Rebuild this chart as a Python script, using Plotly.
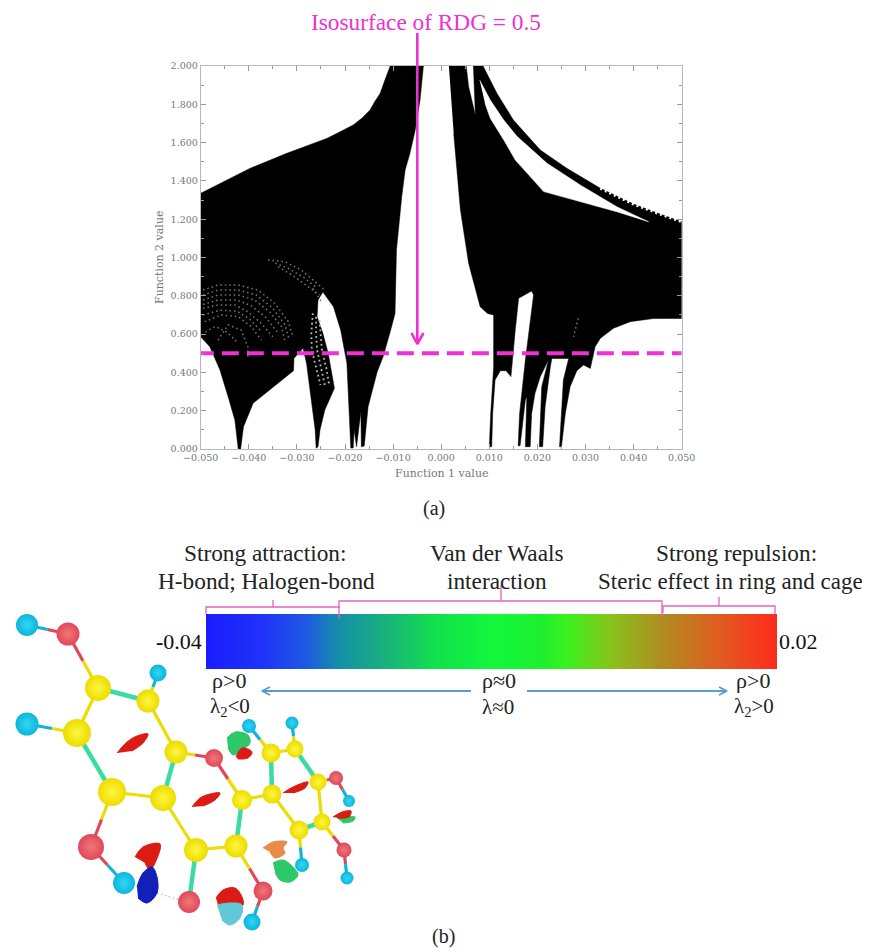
import plotly.graph_objects as go

PINK = "#ee30d4"
BRACKET = "#e263c4"
BLUE_ARROW = "#5b9bd5"
AXIS_TEXT = "#777777"
SERIF = "Liberation Serif"
PAGE_W, PAGE_H = 870, 948
BODY = 8  # the page keeps this margin round the figure
W, H = PAGE_W - BODY, PAGE_H - BODY


def dom_x(a, b):
    return [(a - BODY) / W, (b - BODY) / W]


def dom_y(top, bottom):
    return [1 - (bottom - BODY) / H, 1 - (top - BODY) / H]


# ---------- panel (a): RDG scatter envelope ----------
left_x = [-0.0500, -0.0453, -0.0397, -0.0321, -0.0238, -0.0210, -0.0183, -0.0165, -0.0148, -0.0138, -0.0127, -0.0117,
          -0.0106, -0.0037,
          -0.0044, -0.0054, -0.0065, -0.0075, -0.0082, -0.0093, -0.0096, -0.0105, -0.0121, -0.0133,
          -0.0152, -0.0160, -0.0166, -0.0167, -0.0176, -0.0181, -0.0183, -0.0188, -0.0191, -0.0196,
          -0.0209, -0.0224, -0.0246, -0.0256, -0.0258, -0.0246, -0.0235, -0.0222, -0.0242, -0.0252,
          -0.0256, -0.0260, -0.0262, -0.0273, -0.0280, -0.0287, -0.0306, -0.0307, -0.0349, -0.0391,
          -0.0411, -0.0417, -0.0422, -0.0429, -0.0443, -0.0460, -0.0481, -0.0500]
left_y = [1.335, 1.396, 1.466, 1.544, 1.622, 1.657, 1.692, 1.727, 1.770, 1.814, 1.857, 1.927,
          2.000, 2.000,
          1.822, 1.666, 1.544, 1.457, 1.318, 1.039, 0.708, 0.621, 0.480, 0.404,
          0.221, 0.016, 0.012, 0.195, 0.012, 0.099, 0.005, 0.005, 0.186, 0.447,
          0.621, 0.743, 0.820, 0.778, 0.691, 0.604, 0.500, 0.317, 0.204, 0.099,
          0.012, 0.004, 0.099, 0.308, 0.447, 0.526, 0.474, 0.409, 0.325, 0.239,
          0.116, 0.000, 0.000, 0.151, 0.273, 0.413, 0.534, 0.586]

right_x = [0.0016, 0.0052, 0.0057, 0.0071, 0.0067, 0.0087, 0.0116, 0.0150, 0.0206, 0.0261,
           0.0331, 0.0400, 0.0455, 0.0500, 0.0500, 0.0441, 0.0393, 0.0358, 0.0331, 0.0320,
           0.0310, 0.0296, 0.0282, 0.0268, 0.0258, 0.0250, 0.0246, 0.0254, 0.0265, 0.0230,
           0.0227, 0.0216, 0.0211, 0.0204, 0.0209, 0.0223, 0.0206, 0.0195, 0.0188, 0.0185,
           0.0175, 0.0178, 0.0175, 0.0164, 0.0160, 0.0163, 0.0175, 0.0192, 0.0188, 0.0161,
           0.0154, 0.0150, 0.0145, 0.0135, 0.0123, 0.0112, 0.0107, 0.0105, 0.0100, 0.0103,
           0.0109, 0.0109, 0.0096, 0.0081, 0.0074, 0.0057, 0.0040, 0.0026]
right_y = [2.000, 2.000, 1.892, 1.744, 2.000, 2.000, 1.857, 1.718, 1.561, 1.466,
           1.361, 1.279, 1.227, 1.187, 0.682, 0.681, 0.665, 0.630, 0.578, 0.534,
           0.421, 0.439, 0.409, 0.325, 0.186, 0.012, 0.012, 0.360, 0.473, 0.473,
           0.430, 0.221, 0.012, 0.012, 0.325, 0.465, 0.378, 0.291, 0.186, 0.012,
           0.012, 0.273, 0.256, 0.017, 0.017, 0.186, 0.465, 0.804, 0.825, 0.787,
           0.621, 0.500, 0.378, 0.409, 0.409, 0.360, 0.186, 0.012, 0.012, 0.186,
           0.430, 0.700, 0.708, 0.743, 0.813, 0.970, 1.248, 1.648]

gap_x = [0.0080, 0.0102, 0.0130, 0.0157, 0.0220, 0.0289, 0.0365, 0.0431,
         0.0365, 0.0303, 0.0213, 0.0154, 0.0130, 0.0102, 0.0091]
gap_y = [1.927, 1.822, 1.718, 1.634, 1.492, 1.379, 1.265, 1.187,
         1.239, 1.283, 1.344, 1.509, 1.614, 1.727, 1.805]

# serrated stretch of the upper band's edge
serrated_x = [0.0331, 0.0400, 0.0455, 0.0500]
serrated_y = [1.361, 1.279, 1.227, 1.187]

# the sparse, speckled arcs inside the black area
speck_arcs = [
    [(-0.0495, 0.830), (-0.0464, 0.856), (-0.0422, 0.856), (-0.0381, 0.830), (-0.0346, 0.761), (-0.0318, 0.665), (-0.0308, 0.586)],
    [(-0.0495, 0.805), (-0.0464, 0.830), (-0.0422, 0.830), (-0.0385, 0.805), (-0.0352, 0.740), (-0.0325, 0.650), (-0.0316, 0.570)],
    [(-0.0495, 0.778), (-0.0464, 0.804), (-0.0422, 0.804), (-0.0388, 0.778), (-0.0357, 0.717), (-0.0332, 0.639), (-0.0324, 0.552)],
    [(-0.0495, 0.755), (-0.0464, 0.778), (-0.0425, 0.778), (-0.0395, 0.748), (-0.0365, 0.688), (-0.0341, 0.612)],
    [(-0.0495, 0.735), (-0.0464, 0.752), (-0.0429, 0.752), (-0.0402, 0.717), (-0.0374, 0.656), (-0.0350, 0.586)],
    [(-0.0495, 0.700), (-0.0460, 0.725), (-0.0425, 0.720), (-0.0398, 0.678), (-0.0374, 0.615)],
    [(-0.0492, 0.665), (-0.0457, 0.700), (-0.0422, 0.691), (-0.0395, 0.639), (-0.0374, 0.569)],
    [(-0.0464, 0.569), (-0.0443, 0.648), (-0.0416, 0.621), (-0.0402, 0.534), (-0.0402, 0.474)],
    [(-0.0490, 0.610), (-0.0470, 0.640), (-0.0445, 0.610), (-0.0425, 0.560)],
    [(-0.0360, 0.987), (-0.0325, 0.978), (-0.0291, 0.935), (-0.0263, 0.874), (-0.0242, 0.830)],
    [(-0.0345, 0.970), (-0.0315, 0.940), (-0.0284, 0.892), (-0.0258, 0.840)],
    [(-0.0339, 0.952), (-0.0305, 0.900), (-0.0277, 0.848), (-0.0253, 0.804)],
    [(-0.0267, 0.839), (-0.0249, 0.769)],
    [(0.0285, 0.682), (0.0275, 0.586)],
]
speck_columns = [
    [(-0.0267, 0.709), (-0.0270, 0.604), (-0.0269, 0.517), (-0.0259, 0.413), (-0.0251, 0.334)],
    [(-0.0260, 0.690), (-0.0260, 0.590), (-0.0258, 0.517), (-0.0248, 0.413), (-0.0242, 0.334)],
    [(-0.0253, 0.674), (-0.0249, 0.569), (-0.0248, 0.517), (-0.0238, 0.413), (-0.0233, 0.334)],
]

iso_value = 0.5
iso_x = [-0.0508, 0.05]

# ---------- panel (b): colour scale ----------
scale_values = [-0.040, -0.0338, -0.0295, -0.026, -0.0208, -0.016, -0.0097, -0.005, -0.002, 0.0023, 0.0079, 0.0139, 0.020]
scale_colors = ["#1c1cff", "#1f35f8", "#1e5ae0", "#1590a8", "#18b478", "#12e04c", "#14f83c",
                "#1cf030", "#3cf01e", "#86c41c", "#b08c20", "#e05c20", "#ff2a1c"]

# ---------- panel (b): molecule, positions in page pixels ----------
atom_x = [27, 68, 98, 148, 158, 27, 77, 176, 214, 249, 292, 271, 295, 112, 163, 242, 272, 318, 336, 349,
          299, 322, 344, 347, 196, 236, 91, 124, 189, 263, 252, 302]
atom_y = [625, 634, 688, 701, 673, 724, 733, 752, 758, 726, 723, 753, 749, 792, 798, 800, 794, 782, 778, 801,
          830, 822, 850, 878, 850, 846, 847, 883, 902, 891, 922, 865]
atom_d = [22, 23, 26, 23, 17, 23, 28, 23, 18, 14, 13, 19, 17, 28, 26, 20, 19, 17, 14, 12,
          19, 17, 15, 13, 24, 23, 26, 22, 22, 19, 17, 14]
atom_kind = ["H", "O", "C", "C", "H", "H", "C", "C", "O", "H", "H", "C", "C", "C", "C", "C", "C", "C", "O", "H",
             "C", "C", "O", "H", "C", "C", "O", "H", "O", "O", "H", "H"]
atom_edge = {"H": "#0fb4dc", "O": "#e0485a", "C": "#ecdc00"}
atom_core = {"H": "#30d8f4", "O": "#f07878", "C": "#fff640"}

plain_bonds = [(0, 1), (1, 2), (3, 4), (2, 6), (5, 6), (3, 7), (7, 8), (8, 15), (13, 14), (14, 24), (24, 25),
               (15, 16), (11, 12), (11, 9), (12, 10), (17, 18), (18, 19), (17, 21), (16, 20), (20, 31), (21, 22),
               (22, 23), (13, 26), (26, 27), (25, 29), (29, 30)]
teal_bonds = [(2, 3), (6, 13), (7, 14), (25, 15), (16, 11), (12, 17), (21, 20), (24, 28)]

surf_red = [
    [(117, 753), (127, 742), (137, 736), (148, 734), (143, 743), (132, 751)],
    [(192, 807), (200, 798), (210, 794), (220, 793), (215, 800), (203, 806)],
    [(283, 793), (293, 787), (308, 782), (305, 788), (293, 793)],
    [(333, 817), (342, 812), (351, 811), (349, 817), (338, 818)],
    [(236, 757), (242, 748), (252, 752), (248, 758), (238, 759)],
    [(135, 857), (143, 847), (160, 844), (155, 863), (150, 870), (145, 863)],
    [(216, 898), (223, 890), (235, 888), (242, 897), (243, 905), (230, 903), (218, 905)],
]
surf_green = [
    [(227, 738), (235, 732), (248, 735), (250, 743), (245, 748), (233, 755), (228, 748)],
    [(337, 818), (355, 817), (353, 821), (343, 823)],
    [(273, 863), (283, 860), (293, 867), (298, 875), (290, 882), (280, 880), (275, 872)],
]
surf_orange = [(263, 848), (273, 842), (287, 842), (283, 848), (285, 853), (275, 858), (270, 852)]
surf_blue = [(137, 887), (143, 873), (152, 867), (157, 877), (157, 893), (147, 903), (138, 898)]
surf_cyan = [(217, 905), (230, 903), (242, 905), (240, 918), (230, 925), (222, 920)]
hbond_path = [(157, 893), (180, 900)]

# ---------- panel (b): annotation furniture, page pixels ----------
bracket_paths = [
    [(206, 614), (206, 607), (273, 607), (273, 600), (273, 607), (339, 607), (339, 619)],
    [(339, 608), (339, 601), (501, 601), (501, 585), (501, 601), (662, 601), (662, 616)],
    [(663, 613), (663, 606), (719, 606), (719, 597), (719, 606), (775, 606), (775, 614)],
]
blue_arrows = [
    [(270, 687), (262, 691), (270, 695), (262, 691), (471, 691)],
    [(527, 691), (727, 691), (719, 687), (727, 691), (719, 695)],
]
pink_arrow = [(417.3, 33), (417.3, 344), (411.5, 333), (417.3, 344), (423.5, 333)]

DARK = "#222222"
texts = [
    ("Isosurface of RDG = 0.5", 426, 22, 23.3, PINK, "center"),
    ("(a)", 434, 508, 20, DARK, "center"),
    ("(b)", 443, 936, 20, DARK, "center"),
    ("Strong attraction:", 265, 553, 23.3, DARK, "center"),
    ("H-bond; Halogen-bond", 266, 581, 23.3, DARK, "center"),
    ("Van der Waals", 497, 553, 23.3, DARK, "center"),
    ("interaction", 497, 581, 23.3, DARK, "center"),
    ("Strong repulsion:", 736, 553, 23.3, DARK, "center"),
    ("Steric effect in ring and cage", 730, 581, 23, DARK, "center"),
    ("<b>-</b>0.04", 204, 641, 22, "#111111", "right"),
    ("0.02", 777, 641, 22, "#111111", "left"),
    ("ρ>0", 229, 680, 22, DARK, "center"),
    ("λ<sub>2</sub><0", 230, 707, 21, DARK, "center"),
    ("ρ≈0", 499, 680, 22, DARK, "center"),
    ("λ≈0", 498, 707, 21, DARK, "center"),
    ("ρ>0", 753, 680, 22, DARK, "center"),
    ("λ<sub>2</sub>>0", 754, 707, 21, DARK, "center"),
]


def joined(paths):
    xs, ys = [], []
    for path in paths:
        xs += [p[0] for p in path] + [None]
        ys += [p[1] for p in path] + [None]
    return xs, ys


fig = go.Figure()

# panel (a)
fig.add_trace(go.Scatter(x=left_x, y=left_y, mode="lines", fill="toself", fillcolor="#000000",
                         line=dict(color="#000000", width=0.5), hoverinfo="skip"))
fig.add_trace(go.Scatter(x=right_x, y=right_y, mode="lines", fill="toself", fillcolor="#000000",
                         line=dict(color="#000000", width=0.5), hoverinfo="skip"))
fig.add_trace(go.Scatter(x=gap_x, y=gap_y, mode="lines", fill="toself", fillcolor="#ffffff",
                         line=dict(color="#ffffff", width=0.5), hoverinfo="skip"))
fig.add_trace(go.Scatter(x=serrated_x, y=serrated_y, mode="lines", line=dict(color="#ffffff", width=3, dash="2px,3px"),
                         hoverinfo="skip"))
sx, sy = joined(speck_arcs)
fig.add_trace(go.Scatter(x=sx, y=sy, mode="lines", line=dict(color="#777777", width=1.5, dash="1.5px,3px"),
                         hoverinfo="skip"))
sx, sy = joined(speck_columns)
fig.add_trace(go.Scatter(x=sx, y=sy, mode="lines", line=dict(color="#bbbbbb", width=1.8, dash="1.8px,3px"),
                         hoverinfo="skip"))
fig.add_trace(go.Scatter(x=iso_x, y=[iso_value, iso_value], mode="lines",
                         line=dict(color=PINK, width=4, dash="17px,8px"), hoverinfo="skip"))

# colour bar
span = scale_values[-1] - scale_values[0]
colorscale = [[(v - scale_values[0]) / span, c] for v, c in zip(scale_values, scale_colors)]
fig.add_trace(go.Heatmap(x=scale_values, y=[0, 1], z=[scale_values, scale_values], colorscale=colorscale,
                         zmin=scale_values[0], zmax=scale_values[-1], zsmooth="best", showscale=False,
                         xaxis="x2", yaxis="y2", hoverinfo="skip"))


def page_lines(paths, color, width, dash=None):
    xs, ys = joined(paths)
    fig.add_trace(go.Scatter(x=xs, y=ys, mode="lines", xaxis="x3", yaxis="y3", hoverinfo="skip",
                             line=dict(color=color, width=width, dash=dash)))


def page_blob(path, color):
    fig.add_trace(go.Scatter(x=[p[0] for p in path], y=[p[1] for p in path], mode="lines", fill="toself",
                             fillcolor=color, line=dict(color=color, width=1, shape="spline"),
                             xaxis="x3", yaxis="y3", hoverinfo="skip"))


page_lines(bracket_paths, BRACKET, 1.3)
page_lines(blue_arrows, BLUE_ARROW, 1.8)
page_lines([pink_arrow], PINK, 2.6)

# bonds: each half takes the colour of the atom it leaves
for a, b in plain_bonds:
    mx, my = (atom_x[a] + atom_x[b]) / 2, (atom_y[a] + atom_y[b]) / 2
    page_lines([[(atom_x[a], atom_y[a]), (mx, my)]], atom_edge[atom_kind[a]], 3.2)
    page_lines([[(mx, my), (atom_x[b], atom_y[b])]], atom_edge[atom_kind[b]], 3.2)
page_lines([[(atom_x[a], atom_y[a]), (atom_x[b], atom_y[b])] for a, b in teal_bonds], "#3cdca0", 4.5)
page_lines([hbond_path], "#c8c0e8", 1.2, "2px,2px")

fig.add_trace(go.Scatter(
    x=atom_x, y=atom_y, mode="markers", xaxis="x3", yaxis="y3", hoverinfo="skip",
    marker=dict(size=atom_d, color=[atom_edge[k] for k in atom_kind], opacity=1, line=dict(width=0),
                gradient=dict(type="radial", color=[atom_core[k] for k in atom_kind]))))

for path in surf_green:
    page_blob(path, "#2fc868")
for path in surf_red:
    page_blob(path, "#dc1c14")
page_blob(surf_orange, "#e88a48")
page_blob(surf_blue, "#1020b8")
page_blob(surf_cyan, "#62c8d8")

annotations = [dict(text=t, x=px, y=py, xref="x3", yref="y3", xanchor=a, yanchor="middle", showarrow=False,
                    font=dict(family=SERIF, size=s, color=c)) for t, px, py, s, c, a in texts]

axis_font = dict(family="DejaVu Serif", size=9.5, color=AXIS_TEXT)
title_font = dict(family="DejaVu Serif", size=11, color=AXIS_TEXT)
annotations.append(dict(text="Function 1 value", x=441, y=473, xref="x3", yref="y3", showarrow=False, font=title_font))
annotations.append(dict(text="Function 2 value", x=159, y=258, xref="x3", yref="y3", showarrow=False, textangle=-90,
                        font=title_font))
frame = dict(showgrid=False, zeroline=False, showline=True, linecolor="#b8b8b8", linewidth=1, mirror="allticks",
             ticks="inside", ticklen=5, tickcolor="#999999", tickwidth=1, tickformat=".3f", tickfont=axis_font,
             automargin=False)

fig.update_layout(
    width=W, height=H, margin=dict(l=0, r=0, t=0, b=0, autoexpand=False), paper_bgcolor="white",
    plot_bgcolor="rgba(0,0,0,0)",
    showlegend=False, annotations=annotations,
    xaxis=dict(frame, domain=dom_x(200.7, 681.7), range=[-0.05, 0.05], tick0=-0.05, dtick=0.01,
               minor=dict(dtick=0.005, ticks="inside", ticklen=3, tickcolor="#999999"), anchor="y"),
    yaxis=dict(frame, domain=dom_y(66, 449), range=[0, 2], tick0=0, dtick=0.2,
               minor=dict(dtick=0.1, ticks="inside", ticklen=3, tickcolor="#999999"), anchor="x"),
    xaxis2=dict(domain=dom_x(206, 777), range=[scale_values[0], scale_values[-1]], visible=False, anchor="y2",
                automargin=False),
    yaxis2=dict(domain=dom_y(614, 669), range=[0, 1], visible=False, anchor="x2", automargin=False),
    xaxis3=dict(domain=[0, 1], range=[BODY, PAGE_W], visible=False, anchor="y3", automargin=False),
    yaxis3=dict(domain=[0, 1], range=[PAGE_H, BODY], visible=False, anchor="x3", automargin=False),
)

fig.write_html("out.html")
